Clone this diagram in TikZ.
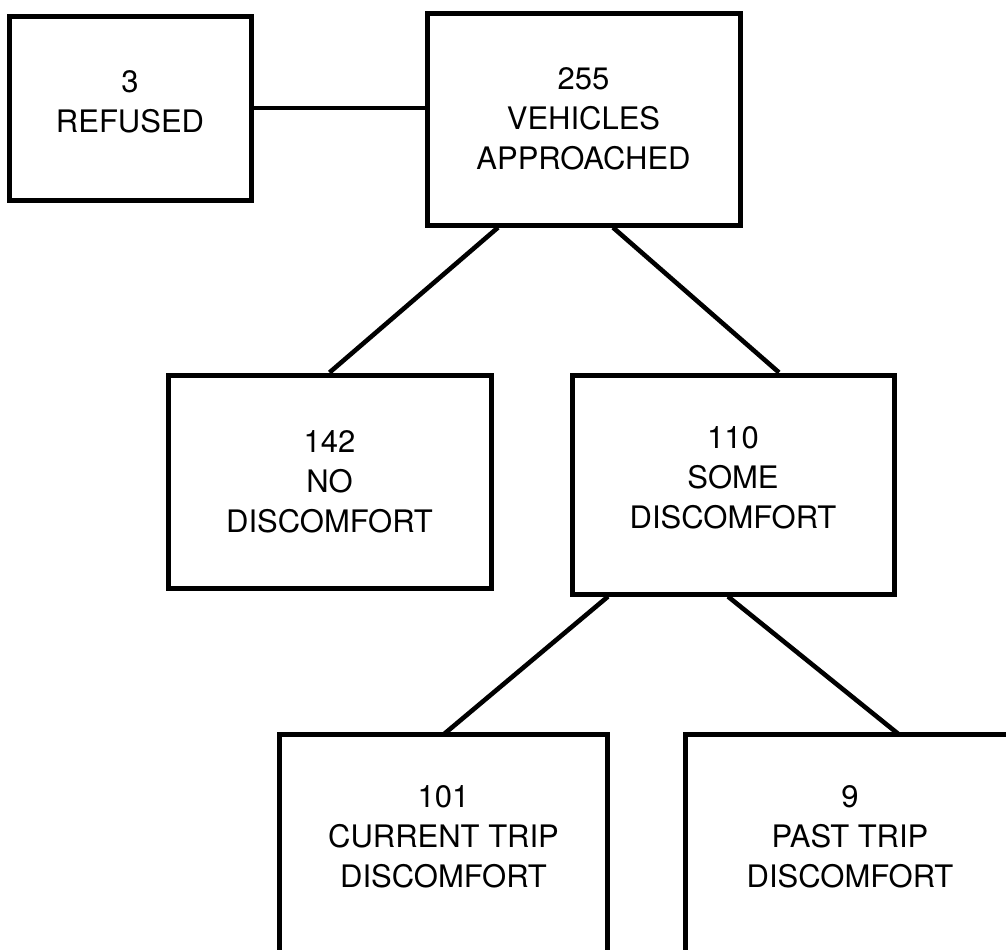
\documentclass[tikz,border=0pt]{standalone}
\usepackage{fontspec}
\setmainfont{TeX Gyre Heros}

\begin{document}
\begin{tikzpicture}[x=.5pt,y=-.5pt,
  box/.style={draw,line width=2.5pt,align=center,inner sep=0pt,
    font=\fontsize{15.5}{20}\selectfont},
  link/.style={line width=2.3pt}]
\useasboundingbox (0,0) rectangle (1006,949);
\node[box,minimum width=121pt,minimum height=92pt,text depth=6pt] (refused) at (130,108) {3\\REFUSED};
\node[box,minimum width=156.5pt,minimum height=106pt] (vehicles) at (583.5,119) {255\\VEHICLES\\APPROACHED};
\node[box,minimum width=161.5pt,minimum height=106.5pt] (nodisc) at (329.5,481.5) {142\\NO\\DISCOMFORT};
\node[box,minimum width=161pt,minimum height=109.5pt,text depth=7.5pt] (somedisc) at (733,484.5) {110\\SOME\\DISCOMFORT};
% the two lower boxes run off the page
\node[box,draw=none,minimum width=161.5pt,minimum height=111.5pt,text depth=12pt] (current) at (443.5,848.5) {101\\CURRENT TRIP\\DISCOMFORT};
\node[box,draw=none,minimum width=162pt,minimum height=111.5pt,text depth=12pt] (past) at (850,848.5) {9\\PAST TRIP\\DISCOMFORT};
\draw[line width=2.5pt] (current.south west) |- (current.north east) -- (current.south east);
\draw[line width=2.5pt] (past.south west) |- (past.north east) -- (past.south east);
% connectors
\draw[link] (refused.east) -- (refused.east -| vehicles.west);
\draw[link] ([xshift=-42.75pt]vehicles.south) -- (nodisc.north);
\draw[link] ([xshift=14.75pt]vehicles.south) -- ([xshift=23pt]somedisc.north);
\draw[link] ([xshift=-62.5pt]somedisc.south) -- (current.north);
\draw[link] ([xshift=-2.5pt]somedisc.south) -- ([xshift=24.5pt]past.north);
\end{tikzpicture}
\end{document}
